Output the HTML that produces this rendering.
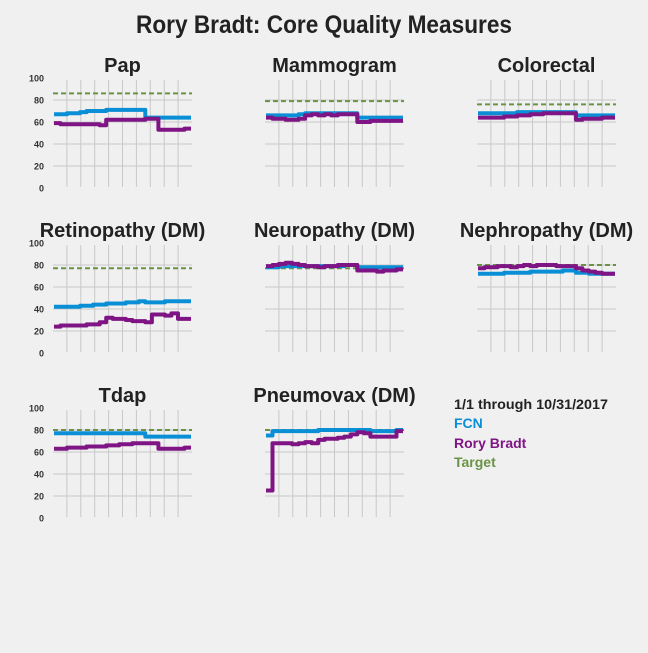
<!DOCTYPE html>
<html><head><meta charset="utf-8"><style>
body{margin:0;background:#f0f0f0;font-family:"Liberation Sans",sans-serif}
svg text{font-family:"Liberation Sans",sans-serif}
</style></head><body>
<svg id="c" width="648" height="648" viewBox="0 0 648 648">
<rect width="648" height="648" fill="#f0f0f0"/>
<text x="324" y="33" text-anchor="middle" font-size="25" font-weight="bold" fill="#222" textLength="376" lengthAdjust="spacingAndGlyphs">Rory Bradt: Core Quality Measures</text>
<g>
<text x="454" y="409" font-size="14" font-weight="bold" fill="#222" textLength="154" lengthAdjust="spacingAndGlyphs">1/1 through 10/31/2017</text>
<text x="454" y="428" font-size="14" font-weight="bold" fill="#0a8fd6">FCN</text>
<text x="454" y="448" font-size="14" font-weight="bold" fill="#7f1484">Rory Bradt</text>
<text x="454" y="467" font-size="14" font-weight="bold" fill="#6a9345">Target</text>
</g>
</svg>
<script>
const titles=["Pap","Mammogram","Colorectal","Retinopathy (DM)","Neuropathy (DM)","Nephropathy (DM)","Tdap","Pneumovax (DM)"];
const targets=[86,79,76,77,77,80,80,80];
const fcn=[
[67,67,68,68,69,70,70,70,71,71,71,71,71,71,64,64,64,64,64,64,64],
[66,66,66,66,66,67,68,68,68,68,68,68,68,68,64,64,64,64,64,64,64],
[68,68,68,68,68,68,69,69,69,69,69,69,69,69,69,66,66,66,66,66,66],
[42,42,42,42,43,43,44,44,45,45,45,46,46,47,46,46,46,47,47,47,47],
[78,78,79,79,79,79,79,79,79,79,79,79,80,80,78,78,78,78,78,78,78],
[72,72,72,72,73,73,73,73,74,74,74,74,74,75,75,73,73,72,72,72,72],
[77,77,77,77,77,77,77,77,77,77,77,77,77,77,74,74,74,74,74,74,74],
[75,79,79,79,79,79,79,79,80,80,80,80,80,80,80,80,79,79,79,79,80]];
const rory=[
[59,58,58,58,58,58,58,57,62,62,62,62,62,62,63,63,53,53,53,53,54],
[64,63,63,62,62,63,66,67,66,67,66,67,67,67,60,60,61,61,61,61,61],
[64,64,64,64,65,65,66,66,67,67,68,68,68,68,68,62,63,63,63,64,64],
[24,25,25,25,25,26,26,28,32,31,31,30,29,29,28,35,35,34,36,31,31],
[79,80,81,82,81,80,79,79,78,79,79,80,80,80,75,75,75,74,75,75,76],
[77,78,78,79,79,78,79,80,79,80,80,80,79,79,79,77,75,74,73,72,72],
[63,63,64,64,64,65,65,65,66,66,67,67,68,68,68,68,63,63,63,63,64],
[25,68,68,68,67,68,69,68,71,72,72,73,74,76,78,77,74,74,74,74,79]];
const yTicks=[0,20,40,60,80,100];
const svg=document.getElementById('c');const NS='http://www.w3.org/2000/svg';
function mk(t,a,p){const e=document.createElementNS(NS,t);for(const k in a)e.setAttribute(k,a[k]);(p||svg).appendChild(e);return e;}
const colX=[53,265,477],rowY=[78,243,408],W=139,H=110;
titles.forEach((ti,i)=>{
 const x0=colX[i%3],y0=rowY[Math.floor(i/3)];
 const g=mk('g',{});
 
 
 const sy=v=>y0+H-v/100*H;
 const n=fcn[i].length;
 const sx=k=>x0+1+k/n*(W-2);
 for(let j=1;j<=9;j++){const gx=x0+j*13.9;const l=mk('line',{x1:gx,x2:gx,y1:y0+2,y2:y0+H-1,stroke:'#c8c8c8','stroke-width':1},g);}
 yTicks.slice(1,5).forEach(v=>{const l=mk('line',{x1:x0,x2:x0+W,y1:sy(v),y2:sy(v),stroke:'#c8c8c8','stroke-width':1},g);});
 if(i%3==0)yTicks.forEach(v=>{const t=mk('text',{x:x0-9,y:sy(v)+3.5,'text-anchor':'end','font-size':9,'font-weight':'bold',fill:'#333'},g);t.textContent=v;});
 const tt=mk('text',{x:x0+W/2,y:y0-6,'text-anchor':'middle','font-size':20,'font-weight':'bold',fill:'#222'},g);tt.textContent=ti;
 
 const tl=mk('line',{x1:x0,x2:x0+W,y1:sy(targets[i]),y2:sy(targets[i]),stroke:'#6a9345','stroke-width':2,'stroke-dasharray':'5,3'},g);
 
 [[fcn[i],'#0a8fd6','fcn-line'],[rory[i],'#7f1484','rory-bradt-line']].forEach(([d,c,nm])=>{
  let pts=[];
  d.forEach((v,k)=>{pts.push(sx(k).toFixed(1)+','+sy(v).toFixed(1));pts.push(sx(k+1).toFixed(1)+','+sy(v).toFixed(1));});
  const p=mk('polyline',{points:pts.join(' '),fill:'none',stroke:c,'stroke-width':4,'stroke-linejoin':'round'},g);
  
 });
});
</script>
</body></html>
